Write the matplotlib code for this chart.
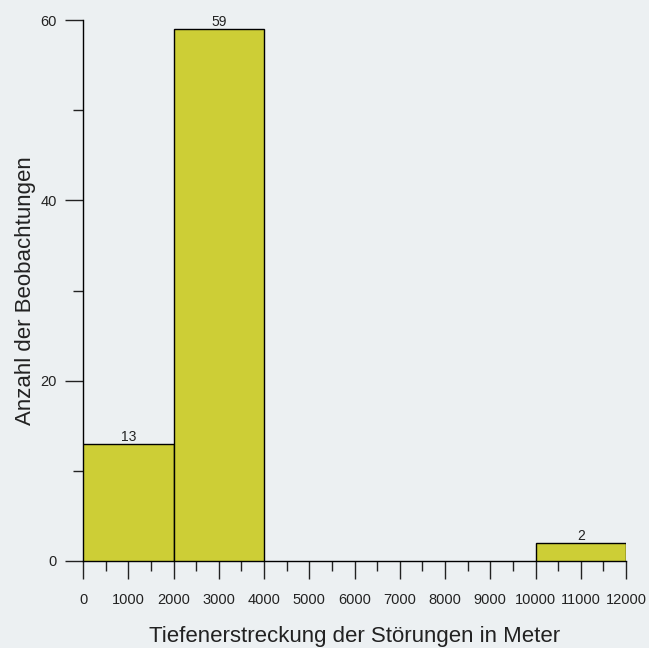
import matplotlib
matplotlib.use("Agg")
import matplotlib.pyplot as plt
from matplotlib.ticker import MultipleLocator

plt.rcParams['font.family'] = ['Liberation Sans', 'DejaVu Sans']

# Histogram of fault depth extent
bin_left = [0, 2000, 10000]
bin_width = [2000, 2000, 2000]
counts = [13, 59, 2]

bg = '#ECF0F2'
bar_color = '#CDCE36'

fig = plt.figure(figsize=(6.49, 6.48), dpi=100, facecolor=bg)
ax = fig.add_axes([83/649, (648-561)/648, (626-83)/649, (561-20)/648])
ax.set_facecolor(bg)

bars = ax.bar(bin_left, counts, width=bin_width, align='edge',
              color=bar_color, edgecolor='black', linewidth=1.0, zorder=3)
for x, w, c in zip(bin_left, bin_width, counts):
    ax.text(x + w / 2, c, str(c), ha='center', va='bottom', fontsize=10, color='#222222')

ax.set_xlim(0, 12000)
ax.set_ylim(0, 60)
for s in ['top', 'right']:
    ax.spines[s].set_visible(False)
ax.spines['left'].set_linewidth(1.0)
ax.spines['bottom'].set_linewidth(1.0)

ax.xaxis.set_major_locator(MultipleLocator(1000))
ax.xaxis.set_minor_locator(MultipleLocator(500))
ax.yaxis.set_major_locator(MultipleLocator(20))
ax.yaxis.set_minor_locator(MultipleLocator(10))
ax.tick_params(axis='both', which='major', length=13, width=1.0, labelsize=10.5,
               color='#222222', labelcolor='#222222')
ax.tick_params(axis='x', which='major', pad=10)
ax.tick_params(axis='y', which='major', pad=6)
ax.tick_params(axis='x', which='minor', length=7, width=1.0, color='#222222')
ax.tick_params(axis='y', which='minor', length=7, width=1.0, color='#222222')

ax.set_xlabel('Tiefenerstreckung der Störungen in Meter', fontsize=16,
              labelpad=14, color='#222222')
ax.set_ylabel('Anzahl der Beobachtungen', fontsize=16, labelpad=3, color='#222222')

fig.savefig('out.png', dpi=100, facecolor=bg)
